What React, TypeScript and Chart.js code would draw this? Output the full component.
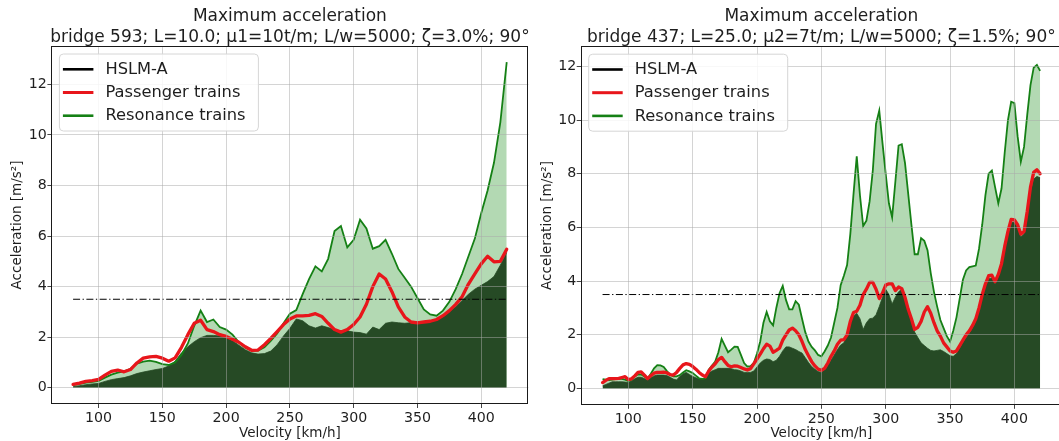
import React, { useEffect, useRef } from "react";
import { Chart, registerables } from "chart.js";

Chart.register(...registerables);

// ---------------- DATA ----------------
const leftVelocity = [
  80, 85, 90, 95, 100, 105, 110, 115, 120, 125, 130, 135, 140, 145, 150, 155, 160, 165, 170, 175,
  180, 185, 190, 195, 200, 205, 210, 215, 220, 225, 230, 235, 240, 245, 250, 255, 260, 265, 270, 275,
  280, 285, 290, 295, 300, 305, 310, 315, 320, 325, 330, 335, 340, 345, 350, 355, 360, 365, 370, 375,
  380, 385, 390, 395, 400, 405, 410, 415, 420,
];
const leftResonance = [
  0.1, 0.15, 0.2, 0.23, 0.27, 0.4, 0.52, 0.6, 0.65, 0.75, 0.95, 1.03, 1.07, 1.02, 0.93, 0.9,
  1.0, 1.3, 1.75, 2.45, 3.05, 2.6, 2.7, 2.4, 2.3, 2.1, 1.8, 1.58, 1.47, 1.47, 1.6, 1.85,
  2.15, 2.55, 2.93, 3.07, 3.7, 4.3, 4.8, 4.6, 5.1, 6.2, 6.4, 5.55, 5.85, 6.65, 6.3, 5.5,
  5.6, 5.85, 5.3, 4.7, 4.35, 4.0, 3.55, 3.1, 2.9, 2.85, 3.05, 3.4, 3.9, 4.5, 5.2, 5.9,
  6.9, 7.8, 8.9, 10.5, 12.88,
];
const leftPassenger = [
  0.13, 0.18, 0.25, 0.28, 0.33, 0.5, 0.65, 0.7, 0.63, 0.72, 0.98, 1.17, 1.22, 1.24, 1.17, 1.05,
  1.18, 1.6, 2.1, 2.55, 2.67, 2.3, 2.22, 2.1, 2.03, 1.92, 1.8, 1.62, 1.48, 1.49, 1.7, 1.95,
  2.22, 2.5, 2.72, 2.84, 2.84, 2.86, 2.93, 2.82, 2.55, 2.3, 2.2, 2.3, 2.5, 2.8, 3.3, 4.0,
  4.5, 4.3, 3.8, 3.2, 2.8, 2.6, 2.57, 2.6, 2.63, 2.7, 2.85, 3.05, 3.3, 3.6, 4.1, 4.5,
  4.9, 5.2, 4.98, 5.0, 5.48,
];
const leftHslm = [
  0.04, 0.08, 0.12, 0.15, 0.17, 0.25, 0.32, 0.36, 0.4, 0.47, 0.56, 0.62, 0.67, 0.72, 0.76, 0.86,
  1.05, 1.38, 1.62, 1.82, 1.98, 2.07, 2.07, 2.05, 2.0, 1.86, 1.68, 1.5, 1.38, 1.33, 1.35, 1.45,
  1.7, 2.05, 2.35, 2.72, 2.65, 2.45, 2.36, 2.45, 2.38, 2.3, 2.25, 2.25, 2.2, 2.18, 2.12, 2.4,
  2.3, 2.55, 2.6, 2.57, 2.55, 2.57, 2.6, 2.62, 2.65, 2.68, 2.8, 3.0, 3.2, 3.45, 3.7, 3.9,
  4.05, 4.2, 4.4, 4.85, 5.35,
];

const rightVelocity = [
  80, 82.5, 85, 87.5, 90, 92.5, 95, 97.5, 100, 102.5, 105, 107.5, 110, 112.5, 115, 117.5,
  120, 122.5, 125, 127.5, 130, 132.5, 135, 137.5, 140, 142.5, 145, 147.5, 150, 152.5, 155, 157.5,
  160, 162.5, 165, 167.5, 170, 172.5, 175, 177.5, 180, 182.5, 185, 187.5, 190, 192.5, 195, 197.5,
  200, 202.5, 205, 207.5, 210, 212.5, 215, 217.5, 220, 222.5, 225, 227.5, 230, 232.5, 235, 237.5,
  240, 242.5, 245, 247.5, 250, 252.5, 255, 257.5, 260, 262.5, 265, 267.5, 270, 272.5, 275, 277.5,
  280, 282.5, 285, 287.5, 290, 292.5, 295, 297.5, 300, 302.5, 305, 307.5, 310, 312.5, 315, 317.5,
  320, 322.5, 325, 327.5, 330, 332.5, 335, 337.5, 340, 342.5, 345, 347.5, 350, 352.5, 355, 357.5,
  360, 362.5, 365, 367.5, 370, 372.5, 375, 377.5, 380, 382.5, 385, 387.5, 390, 392.5, 395, 397.5,
  400, 402.5, 405, 407.5, 410, 412.5, 415, 417.5, 420,
];
const rightResonance = [
  0.35, 0.33, 0.31, 0.33, 0.35, 0.36, 0.36, 0.33, 0.28, 0.33, 0.45, 0.53, 0.52, 0.45, 0.37, 0.55,
  0.75, 0.87, 0.86, 0.8, 0.65, 0.52, 0.45, 0.45, 0.5, 0.6, 0.68, 0.64, 0.58, 0.48, 0.38, 0.36,
  0.38, 0.7, 0.85, 1.0, 1.35, 1.85, 1.6, 1.35, 1.45, 1.56, 1.55, 1.25, 0.95, 0.82, 0.83, 0.95,
  1.3, 1.75, 2.45, 2.85, 2.5, 2.35, 3.0, 3.55, 3.82, 3.3, 2.95, 2.95, 3.25, 3.12, 2.6, 2.1,
  1.75, 1.55, 1.42, 1.25, 1.2, 1.38, 1.6, 1.9, 2.45, 3.0, 3.85, 4.2, 4.6, 5.75, 7.25, 8.65,
  7.2, 6.05, 6.25, 6.97, 8.13, 9.86, 10.35, 9.15, 8.0, 6.9, 6.38, 7.7, 9.05, 9.1, 8.4, 7.25,
  6.1, 5.0, 5.0, 5.6, 5.5, 5.15, 4.3, 3.6, 3.05, 2.55, 2.25, 1.95, 1.75, 2.15, 2.65, 3.35,
  4.05, 4.4, 4.52, 4.55, 4.58, 5.2, 6.1, 7.2, 8.0, 8.12, 7.5, 6.9, 7.45, 8.8, 10.0, 10.68,
  10.63, 9.4, 8.45, 9.0, 10.2, 11.3, 11.95, 12.05, 11.83,
];
const rightPassenger = [
  0.22, 0.3, 0.37, 0.37, 0.37, 0.38, 0.41, 0.44, 0.33, 0.36, 0.47, 0.6, 0.62, 0.5, 0.37, 0.48,
  0.57, 0.6, 0.6, 0.61, 0.58, 0.52, 0.5, 0.6, 0.75, 0.88, 0.93, 0.9, 0.82, 0.72, 0.6, 0.5,
  0.44, 0.65, 0.8, 0.92, 1.08, 1.16, 1.0, 0.86, 0.81, 0.84, 0.83, 0.78, 0.73, 0.69, 0.74, 0.92,
  1.1, 1.28, 1.48, 1.65, 1.58, 1.35, 1.42, 1.5, 1.8, 2.0, 2.18, 2.25, 2.15, 2.0, 1.75, 1.45,
  1.22, 1.0, 0.84, 0.72, 0.68, 0.75, 0.95, 1.2, 1.4, 1.65, 1.8, 1.82, 2.0, 2.5, 2.83, 2.88,
  3.1, 3.5, 3.7, 3.95, 3.95, 3.7, 3.35, 3.55, 3.85, 3.9, 3.9, 3.65, 3.78, 3.72, 3.4, 2.95,
  2.6, 2.2, 2.28, 2.5, 2.85, 3.05, 2.8, 2.45, 2.15, 1.95, 1.7, 1.55, 1.4, 1.35, 1.4, 1.6,
  1.8, 2.0, 2.15, 2.35, 2.6, 3.0, 3.5, 3.9, 4.2, 4.22, 3.98, 4.25, 4.65, 5.3, 5.85, 6.3,
  6.28, 6.1, 5.75, 5.85, 6.6, 7.5, 8.05, 8.15, 8.0,
];
const rightHslm = [
  0.1, 0.15, 0.2, 0.25, 0.25, 0.25, 0.25, 0.24, 0.22, 0.28, 0.36, 0.42, 0.42, 0.37, 0.31, 0.4,
  0.47, 0.5, 0.5, 0.5, 0.48, 0.42, 0.35, 0.32, 0.45, 0.55, 0.6, 0.52, 0.45, 0.4, 0.35, 0.35,
  0.4, 0.58, 0.65, 0.7, 0.75, 0.75, 0.75, 0.75, 0.74, 0.7, 0.69, 0.65, 0.6, 0.6, 0.6, 0.65,
  0.8, 0.95, 1.05, 1.1, 1.08, 1.0, 1.05, 1.2, 1.4, 1.55, 1.55, 1.5, 1.45, 1.38, 1.32, 1.15,
  0.97, 0.82, 0.72, 0.63, 0.6, 0.7, 0.85, 1.05, 1.25, 1.45, 1.62, 1.7, 2.0, 2.5, 2.7, 2.8,
  2.6, 2.2, 2.45, 2.6, 2.62, 2.75, 3.05, 3.4, 3.7, 3.5, 3.15, 3.4, 3.6, 3.7, 3.3, 2.85,
  2.5, 2.1, 1.9, 1.7, 1.6, 1.5, 1.42, 1.4, 1.42, 1.44, 1.38, 1.3, 1.22, 1.2, 1.3, 1.5,
  1.7, 1.9, 2.05, 2.25, 2.5, 2.9, 3.4, 3.8, 4.1, 4.12, 3.88, 4.15, 4.55, 5.2, 5.75, 6.2,
  6.18, 6.0, 5.65, 5.75, 6.5, 7.3, 7.8, 7.9, 7.85,
];

const limitValue = 3.5;
const limitRange = [80, 420];
const xTicks = [100, 150, 200, 250, 300, 350, 400];
const yTicks = [0, 2, 4, 6, 8, 10, 12];
const legendLabels = ["HSLM-A", "Passenger trains", "Resonance trains"];
const mainTitle = "Maximum acceleration";
const leftSubtitle = "bridge 593; L=10.0; \u03bc1=10t/m; L/w=5000; \u03b6=3.0%; 90\u00b0";
const rightSubtitle = "bridge 437; L=25.0; \u03bc2=7t/m; L/w=5000; \u03b6=1.5%; 90\u00b0";
const xTitle = "Velocity [km/h]";
const yTitle = "Acceleration [m/s\u00b2]";

// ---------------- STYLE ----------------
const FONT = "'DejaVu Sans', sans-serif";
const TEXT = "#1e1e1e";
const RED = "#e8161b";
const GREEN = "#158015";
const LIGHT = "#b3d9b3";
const DARK = "#264a25";
const GRID = "rgba(170,170,170,0.5)";
const H = 441;

type PanelCfg = {
  key: string;
  left: number;
  width: number;
  area: { left: number; right: number; top: number; bottom: number };
  yMin: number;
  yMax: number;
  velocity: number[];
  hslm: number[];
  passenger: number[];
  resonance: number[];
  subtitle: string;
};

const panels: PanelCfg[] = [
  {
    key: "l",
    left: 0,
    width: 530,
    area: { left: 51.4, right: 528.4, top: 46, bottom: 404 },
    yMin: -0.644,
    yMax: 13.52,
    velocity: leftVelocity,
    hslm: leftHslm,
    passenger: leftPassenger,
    resonance: leftResonance,
    subtitle: leftSubtitle,
  },
  {
    key: "r",
    left: 530,
    width: 535,
    area: { left: 50.7, right: 532, top: 46.2, bottom: 404.8 },
    yMin: -0.607,
    yMax: 12.75,
    velocity: rightVelocity,
    hslm: rightHslm,
    passenger: rightPassenger,
    resonance: rightResonance,
    subtitle: rightSubtitle,
  },
];

function makeDecor(cfg: PanelCfg) {
  return {
    id: "decor_" + cfg.key,
    afterDraw(chart: any) {
      const ctx: CanvasRenderingContext2D = chart.ctx;
      const a = chart.chartArea;
      ctx.save();
      // frame (spines)
      ctx.strokeStyle = "#1a1a1a";
      ctx.lineWidth = 1;
      ctx.strokeRect(
        Math.round(a.left) + 0.5,
        Math.round(a.top) + 0.5,
        Math.round(a.right - a.left) - 1,
        Math.round(a.bottom - a.top) - 1
      );
      const cx = (a.left + a.right) / 2;
      ctx.fillStyle = TEXT;
      ctx.textAlign = "center";
      ctx.textBaseline = "middle";
      ctx.font = `17px ${FONT}`;
      ctx.fillText(mainTitle, cx, 17);
      ctx.fillText(cfg.subtitle, cx, 37.5);
      ctx.font = `13.5px ${FONT}`;
      ctx.fillText(xTitle, cx, 433);
      ctx.save();
      ctx.translate(17, (a.top + a.bottom) / 2);
      ctx.rotate(-Math.PI / 2);
      ctx.fillText(yTitle, 0, 0);
      ctx.restore();

      // legend
      const lx = a.left + 8;
      const ly = a.top + 8;
      const lw = 199;
      const lh = 77;
      ctx.beginPath();
      const r = 4;
      ctx.moveTo(lx + r, ly);
      ctx.lineTo(lx + lw - r, ly);
      ctx.quadraticCurveTo(lx + lw, ly, lx + lw, ly + r);
      ctx.lineTo(lx + lw, ly + lh - r);
      ctx.quadraticCurveTo(lx + lw, ly + lh, lx + lw - r, ly + lh);
      ctx.lineTo(lx + r, ly + lh);
      ctx.quadraticCurveTo(lx, ly + lh, lx, ly + lh - r);
      ctx.lineTo(lx, ly + r);
      ctx.quadraticCurveTo(lx, ly, lx + r, ly);
      ctx.closePath();
      ctx.fillStyle = "rgba(255,255,255,0.85)";
      ctx.fill();
      ctx.strokeStyle = "#d6d6d6";
      ctx.lineWidth = 1;
      ctx.stroke();
      const colors = ["#000000", RED, GREEN];
      const widths = [2.6, 3, 2.6];
      ctx.textAlign = "left";
      ctx.textBaseline = "middle";
      ctx.font = `16.3px ${FONT}`;
      legendLabels.forEach((lab, i) => {
        const y = ly + 15.3 + i * 23.2;
        ctx.beginPath();
        ctx.strokeStyle = colors[i];
        ctx.lineWidth = widths[i];
        ctx.lineCap = "butt";
        ctx.moveTo(lx + 3.5, y);
        ctx.lineTo(lx + 34, y);
        ctx.stroke();
        ctx.fillStyle = TEXT;
        ctx.fillText(lab, lx + 46, y + 0.5);
      });
      ctx.restore();
    },
  };
}

function Panel({ cfg }: { cfg: PanelCfg }) {
  const ref = useRef<HTMLCanvasElement | null>(null);
  useEffect(() => {
    const canvas = ref.current;
    if (!canvas) return;
    const toXY = (ys: number[]) => cfg.velocity.map((v, i) => ({ x: v, y: ys[i] }));
    const chart = new Chart(canvas, {
      type: "line",
      data: {
        datasets: [
          {
            label: "limit",
            data: limitRange.map((v) => ({ x: v, y: limitValue })),
            borderColor: "#000",
            borderWidth: 1,
            borderDash: [7, 2.5, 1.3, 2.5],
            pointRadius: 0,
            fill: false,
          },
          {
            label: legendLabels[1],
            data: toXY(cfg.passenger),
            borderColor: RED,
            borderWidth: 3.3,
            borderJoinStyle: "round",
            borderCapStyle: "round",
            pointRadius: 0,
            fill: false,
          },
          {
            label: legendLabels[2],
            data: toXY(cfg.resonance),
            borderColor: GREEN,
            borderWidth: 1.8,
            pointRadius: 0,
            fill: false,
          },
          {
            label: legendLabels[0],
            data: toXY(cfg.hslm),
            borderColor: DARK,
            borderWidth: 0.8,
            backgroundColor: DARK,
            pointRadius: 0,
            fill: "origin",
          },
          {
            label: "resonance-area",
            data: toXY(cfg.resonance),
            borderWidth: 0,
            borderColor: "rgba(0,0,0,0)",
            backgroundColor: LIGHT,
            pointRadius: 0,
            fill: "origin",
          },
        ],
      },
      options: {
        animation: false,
        responsive: false,
        maintainAspectRatio: false,
        events: [],
        layout: {
          padding: { top: cfg.area.top, left: 0, right: cfg.width - cfg.area.right, bottom: 0 },
        },
        elements: { line: { tension: 0 } },
        plugins: {
          legend: { display: false },
          tooltip: { enabled: false },
          title: { display: false },
        },
        scales: {
          x: {
            type: "linear",
            min: 63,
            max: 437,
            afterFit: (s: any) => {
              s.height = H - cfg.area.bottom;
            },
            afterBuildTicks: (s: any) => {
              s.ticks = xTicks.map((v) => ({ value: v }));
            },
            grid: { color: GRID, lineWidth: 1, z: 1, tickLength: 4, tickColor: "#444" },
            border: { display: false },
            ticks: {
              color: TEXT,
              font: { family: FONT, size: 14.2 },
              padding: 2,
              maxRotation: 0,
              autoSkip: false,
            },
          },
          y: {
            type: "linear",
            min: cfg.yMin,
            max: cfg.yMax,
            afterFit: (s: any) => {
              s.width = cfg.area.left;
            },
            afterBuildTicks: (s: any) => {
              s.ticks = yTicks.map((v) => ({ value: v }));
            },
            grid: { color: GRID, lineWidth: 1, z: 1, tickLength: 4, tickColor: "#444" },
            border: { display: false },
            ticks: {
              color: TEXT,
              font: { family: FONT, size: 14.2 },
              padding: 0.5,
              autoSkip: false,
            },
          },
        },
      } as any,
      plugins: [makeDecor(cfg)],
    });
    return () => chart.destroy();
  }, [cfg]);
  return (
    <canvas
      ref={ref}
      width={cfg.width}
      height={H}
      style={{ position: "absolute", left: cfg.left, top: 0, width: cfg.width, height: H, display: "block" }}
    />
  );
}

export default function App() {
  return (
    <div
      style={{
        position: "absolute",
        left: 0,
        top: 0,
        width: 1059,
        height: H,
        overflow: "hidden",
        background: "#ffffff",
      }}
    >
      {panels.map((p) => (
        <Panel key={p.key} cfg={p} />
      ))}
    </div>
  );
}
